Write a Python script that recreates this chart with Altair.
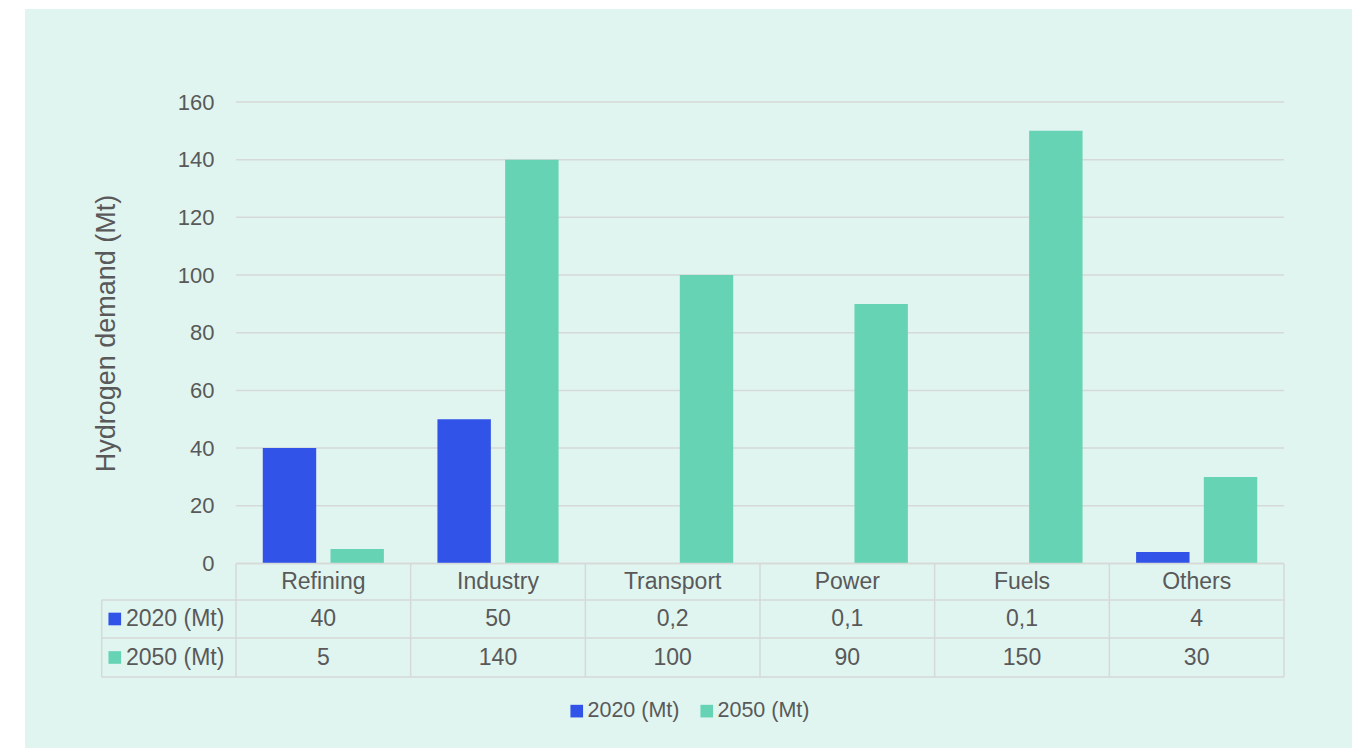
import altair as alt
import pandas as pd

# ---- data ----
categories = ["Refining", "Industry", "Transport", "Power", "Fuels", "Others"]
series = ["2020 (Mt)", "2050 (Mt)"]
values_2020 = [40, 50, 0.2, 0.1, 0.1, 4]
values_2050 = [5, 140, 100, 90, 150, 30]
labels_2020 = ["40", "50", "0,2", "0,1", "0,1", "4"]
labels_2050 = ["5", "140", "100", "90", "150", "30"]
y_ticks = [0, 20, 40, 60, 80, 100, 120, 140, 160]

# ---- style / layout ----
colors = ["#3153e8", "#66d4b4"]
TXT = "#595959"
GRID = "#d5d9d7"
FONT = "Liberation Sans"
W, H = 1048, 575
Y_MIN = -39.35
ROW_LINES = [0, -12.66, -25.83, Y_MIN]
ROW_CENTERS = [-6.33, -19.24, -32.59]
LEFT_COL = -0.769
SQ_X = -0.694
LBL_X = -0.63
FS = 23
NCAT = len(categories)

bars_df = pd.DataFrame({
    "category": categories * 2,
    "series": [series[0]] * NCAT + [series[1]] * NCAT,
    "value": values_2020 + values_2050,
})

yscale = alt.Scale(domain=[Y_MIN, 160], nice=False, zero=False)
cscale = alt.Scale(domain=series, range=colors)
yaxis = alt.Axis(values=y_ticks, title="Hydrogen demand (Mt)",
                 grid=False, zindex=1,
                 domain=False, ticks=False, labelPadding=22,
                 labelFontSize=22, labelColor=TXT, labelFont=FONT,
                 titleFontSize=27, titleColor=TXT, titleFont=FONT,
                 titleFontWeight="normal", titlePadding=57,
                 titleY=231)

xq = alt.Scale(domain=[0, NCAT], nice=False, zero=False)

bg = alt.Chart(alt.Data(values=[{}])).mark_rect(color="#e0f5f0").encode(
    x=alt.value(-211), x2=alt.value(1116), y=alt.value(-93), y2=alt.value(646)
)

grid_df = pd.DataFrame({"y": y_ticks, "x": [0] * len(y_ticks), "x2": [NCAT] * len(y_ticks)})
grid = alt.Chart(grid_df).mark_rule(color=GRID, strokeWidth=1.5).encode(
    x=alt.X("x:Q", scale=xq, axis=None),
    x2="x2:Q",
    y=alt.Y("y:Q", scale=yscale, axis=yaxis),
)

bars = alt.Chart(bars_df).mark_bar().encode(
    x=alt.X("category:N", sort=categories, axis=None,
            scale=alt.Scale(paddingInner=0, paddingOuter=0)),
    xOffset=alt.XOffset("series:N", sort=series,
                        scale=alt.Scale(paddingInner=0.211, paddingOuter=0.3955)),
    y=alt.Y("value:Q", scale=yscale, axis=yaxis),
    color=alt.Color("series:N", scale=cscale,
                    legend=alt.Legend(orient="none", legendX=330, legendY=598,
                                      direction="horizontal", title=None,
                                      symbolType="square", symbolSize=160,
                                      symbolStrokeWidth=0, labelFontSize=21.5,
                                      labelColor=TXT, labelFont=FONT,
                                      labelOffset=0, columnPadding=16,
                                      padding=0)),
)

lines = []
lines.append({"x": 0, "x2": NCAT, "y": ROW_LINES[0], "y2": ROW_LINES[0]})
for yv in ROW_LINES[1:]:
    lines.append({"x": LEFT_COL, "x2": NCAT, "y": yv, "y2": yv})
lines.append({"x": LEFT_COL, "x2": LEFT_COL, "y": ROW_LINES[1], "y2": Y_MIN})
for i in range(NCAT + 1):
    lines.append({"x": i, "x2": i, "y": 0, "y2": Y_MIN})
lines_df = pd.DataFrame(lines)

rules = alt.Chart(lines_df).mark_rule(color=GRID, strokeWidth=1.5).encode(
    x=alt.X("x:Q", scale=xq, axis=None),
    x2="x2:Q",
    y=alt.Y("y:Q", scale=yscale, axis=yaxis),
    y2="y2:Q",
)

cells = []
for i, c in enumerate(categories):
    cells.append({"x": i + 0.5, "y": ROW_CENTERS[0], "t": c})
    cells.append({"x": i + 0.5, "y": ROW_CENTERS[1], "t": labels_2020[i]})
    cells.append({"x": i + 0.5, "y": ROW_CENTERS[2], "t": labels_2050[i]})
cells_df = pd.DataFrame(cells)

cell_text = alt.Chart(cells_df).mark_text(
    fontSize=FS, color=TXT, font=FONT, baseline="middle", align="center"
).encode(
    x=alt.X("x:Q", scale=xq, axis=None),
    y=alt.Y("y:Q", scale=yscale, axis=yaxis),
    text="t:N",
)

row_df = pd.DataFrame({
    "series": series,
    "y": ROW_CENTERS[1:],
    "sx": [SQ_X, SQ_X],
    "lx": [LBL_X, LBL_X],
})

row_sq = alt.Chart(row_df).mark_square(size=160, opacity=1).encode(
    x=alt.X("sx:Q", scale=xq, axis=None),
    y=alt.Y("y:Q", scale=yscale, axis=yaxis),
    color=alt.Color("series:N", scale=cscale, legend=None),
)

row_lbl = alt.Chart(row_df).mark_text(
    fontSize=FS, color=TXT, font=FONT, baseline="middle", align="left"
).encode(
    x=alt.X("lx:Q", scale=xq, axis=None),
    y=alt.Y("y:Q", scale=yscale, axis=yaxis),
    text="series:N",
)

chart = alt.layer(bg, grid, bars, rules, cell_text, row_sq, row_lbl).resolve_scale(
    x="independent"
).properties(
    width=W, height=H, background="white",
    padding={"left": 25, "top": 9, "right": 12, "bottom": 2},
).configure_view(stroke=None)

chart.save("out.html", embed_options={"renderer": "svg", "actions": False})
